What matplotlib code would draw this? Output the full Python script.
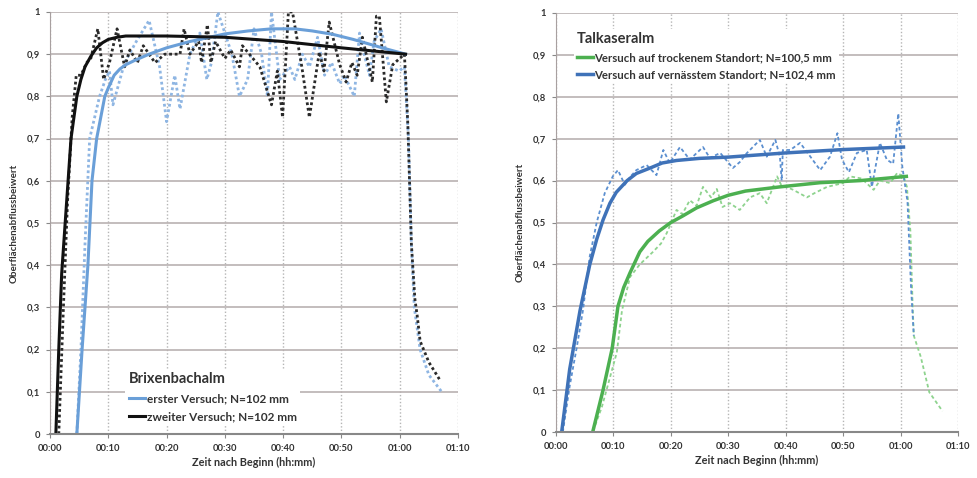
import numpy as np
import matplotlib
matplotlib.use("Agg")
import matplotlib.pyplot as plt
from matplotlib.ticker import FuncFormatter, MultipleLocator

plt.rcParams['font.family'] = ['Lato', 'DejaVu Sans']

# Brixenbachalm (minutes, coefficient)
erster_t = [4.6, 5.3, 6.0, 6.8, 8.5, 9.5, 10.2, 10.8, 12.8, 14.8, 17.0, 18.8, 20.0, 21.4, 22.3, 24.0,
            25.7, 26.9, 27.7, 28.8, 30.0, 31.2, 32.5, 33.9, 35.0, 36.3, 37.3, 38.0, 39.4, 41.1, 42.0,
            43.3, 44.5, 45.9, 47.1, 48.3, 49.7, 50.5, 52.2, 53.1, 53.9, 54.8, 55.6, 56.8, 58.2, 59.9,
            60.8, 61.5, 62.0, 62.5, 63.5, 65.0, 67.2]
erster_v = [0.0, 0.2, 0.45, 0.7, 0.8, 0.84, 0.86, 0.78, 0.88, 0.93, 0.98, 0.87, 0.74, 0.85, 0.77, 0.9,
            0.95, 0.84, 0.88, 1.0, 0.95, 0.9, 0.8, 0.84, 0.96, 0.9, 0.8, 1.0, 0.84, 0.87, 0.84,
            0.9, 0.87, 0.94, 0.85, 0.88, 0.83, 0.85, 0.8, 0.95, 0.9, 0.85, 0.93, 0.96, 0.87, 0.86,
            0.87, 0.7, 0.45, 0.3, 0.2, 0.14, 0.1]
zweiter_t = [1.5, 2.3, 3.0, 3.8, 4.5, 5.3, 6.3, 7.0, 8.2, 9.2, 10.2, 11.5, 12.8, 13.7, 15.0, 16.0, 18.0,
             19.7, 22.3, 23.0, 24.0, 25.5, 26.0, 27.0, 27.6, 28.4, 30.0, 31.0, 32.5, 33.0, 34.2, 36.0,
             38.0, 39.0, 39.9, 40.9, 41.6, 43.2, 44.5, 46.2, 47.0, 47.9, 49.7, 50.8, 51.8, 52.7, 53.6,
             55.3, 56.0, 56.5, 57.7, 58.8, 60.0, 60.8, 61.1, 61.4, 62.0, 62.6, 63.0, 63.5, 65.0, 66.8]
zweiter_v = [0.0, 0.3, 0.55, 0.75, 0.85, 0.85, 0.88, 0.89, 0.96, 0.84, 0.88, 0.96, 0.87, 0.91, 0.88, 0.92, 0.88,
             0.9, 0.9, 0.96, 0.9, 0.93, 0.88, 0.97, 0.88, 0.93, 0.89, 0.91, 0.87, 0.92, 0.9, 0.87,
             0.78, 0.86, 0.75, 1.0, 1.0, 0.87, 0.75, 0.905, 0.86, 0.976, 0.875, 0.834, 0.88, 0.85, 0.94,
             0.834, 0.99, 0.99, 0.787, 0.875, 0.89, 0.9, 0.82, 0.73, 0.45, 0.32, 0.28, 0.22, 0.17, 0.13]
fit1_t = [4.6, 5.5, 6.5, 7.2, 8.0, 9.4, 10.0, 11.0, 12.0, 13.0, 14.5, 17.0, 20.0, 24.0, 30.0, 34.0,
          38.0, 42.0, 45.0, 48.5, 52.0, 57.0, 61.0]
fit1_v = [0.0, 0.2, 0.4, 0.6, 0.7, 0.8, 0.82, 0.85, 0.865, 0.875, 0.885, 0.9, 0.915, 0.93, 0.948, 0.955,
          0.96, 0.96, 0.955, 0.947, 0.935, 0.915, 0.9]
fit2_t = [1.0, 1.5, 2.0, 2.6, 3.1, 3.6, 4.6, 5.3, 6.0, 7.0, 8.0, 9.0, 10.0, 11.5, 13.0, 20.0, 30.0,
          40.0, 50.0, 61.0]
fit2_v = [0.0, 0.2, 0.38, 0.5, 0.6, 0.7, 0.8, 0.84, 0.87, 0.895, 0.915, 0.927, 0.935, 0.94, 0.943,
          0.943, 0.94, 0.93, 0.915, 0.9]

# Talkaseralm
nass_t = [1.2, 2.4, 3.6, 4.7, 5.9, 7.1, 8.5, 9.9, 10.8, 12.0, 13.0, 14.0, 15.8, 17.5, 18.7, 19.8, 21.6,
          23.3, 25.6, 26.8, 28.6, 30.8, 32.0, 33.2, 35.5, 36.7, 38.2, 39.0, 39.3, 39.5, 40.8, 42.5,
          44.3, 46.0, 47.7, 49.0, 49.8, 51.0, 52.4, 54.1, 55.0, 56.4, 57.6, 58.7, 59.6, 60.3, 61.2,
          61.8, 62.3]
nass_v = [0.0, 0.11, 0.2, 0.29, 0.42, 0.5, 0.57, 0.61, 0.625, 0.59, 0.61, 0.625, 0.637, 0.613, 0.673, 0.642, 0.68,
          0.65, 0.68, 0.654, 0.666, 0.63, 0.644, 0.665, 0.697, 0.657, 0.697, 0.656, 0.6, 0.673, 0.673, 0.69,
          0.657, 0.625, 0.657, 0.713, 0.65, 0.62, 0.666, 0.673, 0.585, 0.69, 0.65, 0.64, 0.76, 0.633, 0.55,
          0.35, 0.23]
trocken_t = [0.0, 6.4, 8.0, 9.0, 10.6, 11.5, 12.9, 14.6, 16.9, 18.3, 19.3, 21.0, 22.0, 23.3, 24.5, 25.6,
             27.0, 28.0, 29.0, 30.3, 32.0, 33.8, 35.5, 36.7, 38.5, 39.2, 41.3, 43.7, 45.0, 47.2, 50.0,
             51.2, 53.2, 55.3, 56.4, 58.2, 59.4, 60.5, 61.1, 61.7, 62.1, 62.3, 63.5, 65.0, 67.3]
trocken_v = [0.0, 0.0, 0.06, 0.11, 0.19, 0.29, 0.37, 0.4, 0.43, 0.45, 0.475, 0.53, 0.52, 0.553, 0.54, 0.585,
             0.56, 0.58, 0.537, 0.546, 0.53, 0.56, 0.57, 0.546, 0.61, 0.59, 0.578, 0.56, 0.57, 0.585, 0.594,
             0.61, 0.605, 0.578, 0.6, 0.594, 0.618, 0.61, 0.585, 0.48, 0.3, 0.23, 0.18, 0.095, 0.05]
fitn_t = [1.0, 2.4, 4.2, 5.9, 7.1, 8.2, 9.4, 10.5, 12.4, 14.0, 16.4, 18.5, 21.0, 25.0, 30.0, 40.0,
          50.0, 60.5]
fitn_v = [0.0, 0.15, 0.29, 0.4, 0.46, 0.506, 0.546, 0.572, 0.6, 0.617, 0.63, 0.642, 0.648, 0.653,
          0.656, 0.666, 0.674, 0.68]
fitt_t = [6.4, 8.2, 9.8, 10.8, 11.8, 12.9, 14.6, 16.0, 18.0, 20.0, 22.0, 24.5, 27.4, 30.0, 33.0,
          36.0, 39.0, 46.0, 53.0, 61.0]
fitt_v = [0.0, 0.1, 0.2, 0.3, 0.345, 0.38, 0.43, 0.455, 0.48, 0.5, 0.515, 0.535, 0.552, 0.565, 0.575,
          0.58, 0.585, 0.595, 0.6, 0.61]

xticks = [0, 10, 20, 30, 40, 50, 60, 70]
xlabels = ["00:00", "00:10", "00:20", "00:30", "00:40", "00:50", "01:00", "01:10"]


def style_axes(ax):
    ax.set_xlim(0, 70)
    ax.set_ylim(0, 1)
    ax.set_xticks(xticks)
    ax.set_xticklabels(xlabels)
    ax.yaxis.set_major_locator(MultipleLocator(0.1))
    ax.yaxis.set_major_formatter(FuncFormatter(
        lambda v, p: "0" if abs(v) < 1e-9 else ("1" if abs(v - 1) < 1e-9 else ("%.1f" % v).replace(".", ","))))
    ax.grid(axis='y', color='#b9b1b1', lw=1.2)
    ax.grid(axis='x', color='#b5b5b5', lw=1.0, ls=(0, (1, 1.5)))
    ax.set_axisbelow(True)
    for s in ['top', 'right']:
        ax.spines[s].set_visible(False)
    ax.spines['left'].set_color('#a8a0a0')
    ax.spines['bottom'].set_color('#888888')
    ax.spines['bottom'].set_linewidth(1.5)
    ax.tick_params(axis='both', length=3, color='#888888', labelsize=6.8, pad=4)
    for lab in ax.get_xticklabels() + ax.get_yticklabels():
        lab.set_fontweight('bold')
        lab.set_color('#333333')
    ax.set_xlabel("Zeit nach Beginn (hh:mm)", fontsize=7.8, fontweight='bold', color='#333333', labelpad=3)
    ax.set_ylabel("Oberflächenabflussbeiwert", fontsize=7, fontweight='bold', color='#333333', labelpad=6)


fig = plt.figure(figsize=(9.77, 4.78), dpi=100)
ax1 = fig.add_axes([0.0512, 0.092, 0.4176, 0.883])
ax2 = fig.add_axes([0.569, 0.096, 0.4116, 0.877])

style_axes(ax1)
ax1.plot(erster_t, erster_v, color='#8fb6e3', lw=2, ls=(0, (1, 1)))
ax1.plot(zweiter_t, zweiter_v, color='#2a2a2a', lw=2, ls=(0, (1, 1)))
l1, = ax1.plot(fit1_t, fit1_v, color='#6a9fd8', lw=2.2)
l2, = ax1.plot(fit2_t, fit2_v, color='#111111', lw=2.2)
leg1 = ax1.legend([l1, l2], ["erster Versuch; N=102 mm", "zweiter Versuch; N=102 mm"],
                  title="Brixenbachalm", loc='lower left', bbox_to_anchor=(0.17, 0.005),
                  frameon=True, framealpha=1, edgecolor='none', fancybox=False,
                  prop={'size': 8.5, 'weight': 'bold'}, handlelength=1.4, handletextpad=0.1,
                  labelspacing=0.6, borderpad=0.3)
leg1.get_title().set_fontsize(10.5)
leg1.get_title().set_fontweight('bold')
leg1._legend_box.align = "left"
for t in leg1.get_texts() + [leg1.get_title()]:
    t.set_color('#333333')

style_axes(ax2)
ax2.plot(trocken_t, trocken_v, color='#8ed38e', lw=1.3, ls=(0, (2, 1.5)))
ax2.plot(nass_t, nass_v, color='#5b8fd0', lw=1.3, ls=(0, (2, 1.5)))
l3, = ax2.plot(fitt_t, fitt_v, color='#4cb050', lw=2.5)
l4, = ax2.plot(fitn_t, fitn_v, color='#3f72b8', lw=2.5)
leg2 = ax2.legend([l3, l4], ["Versuch auf trockenem Standort; N=100,5 mm",
                             "Versuch auf vernässtem Standort; N=102,4 mm"],
                  title="Talkaseralm", loc='upper left', bbox_to_anchor=(0.03, 0.975),
                  frameon=True, framealpha=1, edgecolor='none', fancybox=False,
                  prop={'size': 8.2, 'weight': 'bold'}, handlelength=1.4, handletextpad=0.1,
                  labelspacing=0.5, borderpad=0.3)
leg2.get_title().set_fontsize(10.5)
leg2.get_title().set_fontweight('bold')
leg2._legend_box.align = "left"
for t in leg2.get_texts() + [leg2.get_title()]:
    t.set_color('#333333')

fig.savefig("out.png", dpi=100)
